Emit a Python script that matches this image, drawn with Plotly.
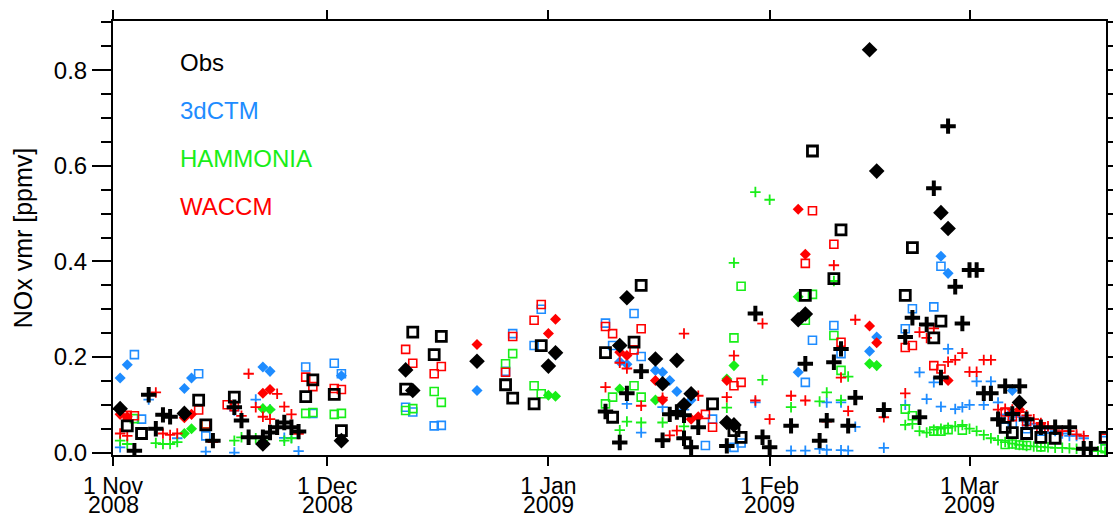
import plotly.graph_objects as go

# ---------------------------------------------------------------------------
# NOx volume mixing ratio (ppmv), winter 2008/09.
# Dates are given as "MM-DD"; Nov/Dec belong to 2008, Jan-Mar to 2009.
# Three sampling groups (squares, diamonds, crosses), each with the
# observation and the three model values.
# ---------------------------------------------------------------------------

# --- square group ----------------------------------------------------------
sq_obs_dates = ["11-03", "11-05", "11-13", "11-14", "11-18", "11-28", "11-29", "12-02", "12-03",
                "12-12", "12-13", "12-16", "12-17", "12-26", "12-27", "12-30", "12-31", "01-09",
                "01-10", "01-13", "01-14", "01-24", "01-27", "01-28", "02-06", "02-07", "02-10",
                "02-11", "02-20", "02-21", "02-24", "02-25", "03-06", "03-07", "03-09", "03-11",
                "03-13", "03-20"]
sq_obs = [0.056, 0.040, 0.110, 0.058, 0.116, 0.117, 0.152, 0.122, 0.046,
          0.133, 0.252, 0.205, 0.243, 0.142, 0.114, 0.102, 0.224, 0.209,
          0.074, 0.231, 0.350, 0.102, 0.046, 0.032, 0.329, 0.631, 0.364,
          0.466, 0.329, 0.429, 0.240, 0.275, 0.053, 0.042, 0.040, 0.032,
          0.030, 0.032]

sq_ctm_dates = ["11-04", "11-05", "11-13", "11-14", "11-28", "11-29", "12-02", "12-03", "12-12",
                "12-13", "12-16", "12-17", "12-26", "12-27", "12-30", "12-31", "01-09", "01-10",
                "01-13", "01-14", "01-23", "01-24", "01-27", "01-28", "02-06", "02-07", "02-10",
                "02-11", "02-20", "02-21", "02-24", "02-25", "03-06", "03-07", "03-09", "03-11",
                "03-20"]
sq_ctm = [0.205, 0.070, 0.165, 0.035, 0.179, 0.082, 0.187, 0.165, 0.095,
          0.085, 0.056, 0.057, 0.170, 0.249, 0.224, 0.300, 0.271, 0.224,
          0.291, 0.201, 0.015, 0.070, 0.011, 0.020, 0.147, 0.235, 0.266,
          0.207, 0.259, 0.301, 0.305, 0.390, 0.070, 0.060, 0.050, 0.045,
          0.025]

sq_ham_dates = ["11-04", "11-14", "11-28", "11-29", "12-02", "12-03", "12-12", "12-13", "12-16",
                "12-17", "12-26", "12-27", "12-30", "12-31", "01-09", "01-10", "01-13", "01-14",
                "01-27", "01-28", "02-06", "02-07", "02-10", "02-11", "02-20", "02-21", "02-24",
                "02-25", "02-26", "02-28", "03-06", "03-07", "03-08", "03-09", "03-11", "03-20"]
sq_ham = [0.071, 0.060, 0.082, 0.084, 0.080, 0.082, 0.088, 0.092, 0.128,
          0.105, 0.186, 0.207, 0.140, 0.123, 0.102, 0.116, 0.140, 0.116,
          0.240, 0.348, 0.277, 0.331, 0.245, 0.172, 0.091, 0.077, 0.045,
          0.045, 0.048, 0.047, 0.017, 0.018, 0.016, 0.015, 0.012, 0.008]

sq_wac_dates = ["11-03", "11-04", "11-13", "11-14", "11-17", "11-18", "11-28", "11-29", "12-02",
                "12-03", "12-12", "12-13", "12-16", "12-17", "12-26", "12-27", "12-30", "12-31",
                "01-09", "01-10", "01-13", "01-14", "01-23", "01-24", "01-27", "01-28", "02-06",
                "02-07", "02-10", "02-11", "02-20", "02-21", "02-24", "02-25", "03-06", "03-07",
                "03-09", "03-11", "03-20"]
sq_wac = [0.078, 0.077, 0.089, 0.060, 0.100, 0.096, 0.158, 0.138, 0.134,
          0.132, 0.216, 0.187, 0.165, 0.180, 0.168, 0.243, 0.277, 0.310,
          0.264, 0.249, 0.215, 0.259, 0.080, 0.053, 0.140, 0.147, 0.396,
          0.506, 0.436, 0.231, 0.220, 0.224, 0.182, 0.175, 0.085, 0.075,
          0.065, 0.050, 0.030]

# --- diamond group ---------------------------------------------------------
dm_obs_dates = ["11-02", "11-11", "11-22", "12-03", "12-12", "12-13", "12-22", "01-01", "01-02",
                "01-11", "01-12", "01-16", "01-17", "01-19", "01-20", "01-21", "01-26", "01-27",
                "02-05", "02-06", "02-15", "02-16", "02-25", "02-26", "03-08"]
dm_obs = [0.092, 0.082, 0.018, 0.025, 0.173, 0.130, 0.191, 0.181, 0.209,
          0.224, 0.324, 0.196, 0.144, 0.193, 0.100, 0.123, 0.063, 0.058,
          0.278, 0.290, 0.843, 0.589, 0.502, 0.469, 0.105]

dm_ctm_dates = ["11-02", "11-03", "11-11", "11-12", "11-22", "11-23", "12-03", "12-22", "01-02",
                "01-11", "01-12", "01-16", "01-17", "01-18", "01-19", "01-21", "02-05", "02-15",
                "02-16", "02-25", "02-26", "03-07"]
dm_ctm = [0.156, 0.184, 0.134, 0.156, 0.179, 0.170, 0.161, 0.130, 0.205,
          0.190, 0.185, 0.172, 0.168, 0.151, 0.128, 0.110, 0.168, 0.212,
          0.242, 0.411, 0.375, 0.130]

dm_ham_dates = ["11-11", "11-12", "11-22", "11-23", "01-01", "01-02", "01-11", "01-16", "01-26",
                "01-27", "02-05", "02-15", "02-16"]
dm_ham = [0.040, 0.050, 0.092, 0.090, 0.120, 0.118, 0.133, 0.110, 0.154,
          0.182, 0.326, 0.186, 0.182]

dm_wac_dates = ["11-02", "11-03", "11-11", "11-12", "11-22", "11-23", "12-22", "01-01", "01-02",
                "01-11", "01-12", "01-16", "01-17", "01-21", "01-22", "01-26", "02-05", "02-06",
                "02-15", "02-16", "02-26", "03-08"]
dm_wac = [0.080, 0.075, 0.073, 0.080, 0.124, 0.132, 0.226, 0.249, 0.279,
          0.210, 0.203, 0.151, 0.110, 0.070, 0.075, 0.151, 0.509, 0.415,
          0.265, 0.230, 0.151, 0.090]

# --- cross group -----------------------------------------------------------
cr_obs_dates = ["11-04", "11-06", "11-07", "11-08", "11-09", "11-15", "11-18", "11-19", "11-20",
                "11-22", "11-23", "11-24", "11-25", "11-26", "11-27", "01-09", "01-11", "01-12",
                "01-14", "01-17", "01-18", "01-19", "01-20", "01-20", "01-21", "01-22", "01-26",
                "01-30", "01-31", "02-01", "02-04", "02-06", "02-08", "02-09", "02-10", "02-11",
                "02-12", "02-13", "02-17", "02-20", "02-21", "02-22", "02-23", "02-24", "02-25",
                "02-26", "02-27", "02-28", "03-01", "03-02", "03-03", "03-04", "03-05", "03-06",
                "03-07", "03-08", "03-09", "03-11", "03-13", "03-15", "03-17", "03-18"]
cr_obs = [0.004, 0.121, 0.050, 0.079, 0.075, 0.025, 0.095, 0.067, 0.032,
          0.032, 0.042, 0.053, 0.063, 0.053, 0.044, 0.086, 0.021, 0.124,
          0.170, 0.026, 0.080, 0.085, 0.078, 0.030, 0.011, 0.053, 0.014,
          0.291, 0.032, 0.011, 0.056, 0.186, 0.025, 0.067, 0.189, 0.217,
          0.056, 0.115, 0.089, 0.242, 0.282, 0.074, 0.268, 0.553, 0.157,
          0.683, 0.347, 0.270, 0.382, 0.382, 0.124, 0.124, 0.070, 0.139,
          0.081, 0.139, 0.070, 0.053, 0.053, 0.053, 0.008, 0.008]

cr_ctm_dates = ["11-02", "11-06", "11-10", "11-14", "11-18", "11-18", "11-21", "11-23", "11-25",
                "11-26", "11-27", "01-12", "01-14", "01-17", "01-20", "01-30", "02-04", "02-06",
                "02-08", "02-09", "02-09", "02-11", "02-11", "02-12", "02-13", "02-17", "02-20",
                "02-22", "02-23", "02-24", "02-25", "02-26", "02-27", "02-28", "03-01", "03-02",
                "03-03", "03-04", "03-05", "03-06", "03-07", "03-08", "03-09", "03-10", "03-11",
                "03-12", "03-13", "03-14", "03-15", "03-16", "03-17"]
cr_ctm = [0.011, 0.111, 0.030, 0.002, 0.088, 0.000, 0.111, 0.090, 0.031,
          0.031, 0.003, 0.102, 0.042, 0.095, 0.090, 0.105, 0.004, 0.004,
          0.008, 0.105, 0.006, 0.105, 0.005, 0.004, 0.054, 0.010, 0.100,
          0.168, 0.112, 0.147, 0.096, 0.217, 0.091, 0.095, 0.100, 0.149,
          0.100, 0.149, 0.105, 0.080, 0.085, 0.075, 0.065, 0.060, 0.055,
          0.050, 0.045, 0.040, 0.035, 0.035, 0.030]

cr_ham_dates = ["11-02", "11-03", "11-07", "11-08", "11-09", "11-10", "11-18", "11-19", "11-21",
                "11-22", "11-25", "11-26", "01-11", "01-12", "01-14", "01-17", "01-20", "01-26",
                "01-27", "01-30", "01-31", "02-01", "02-04", "02-08", "02-09", "02-10", "02-11",
                "02-12", "02-20", "02-21", "02-22", "02-23", "02-24", "02-25", "02-26", "02-27",
                "02-28", "03-01", "03-02", "03-03", "03-04", "03-05", "03-06", "03-07", "03-08",
                "03-09", "03-10", "03-11", "03-12", "03-13", "03-14", "03-15", "03-16", "03-17",
                "03-18", "03-19", "03-20"]
cr_ham = [0.025, 0.018, 0.020, 0.018, 0.018, 0.022, 0.025, 0.032, 0.030,
          0.025, 0.025, 0.030, 0.047, 0.065, 0.063, 0.063, 0.055, 0.094,
          0.397, 0.545, 0.152, 0.529, 0.095, 0.107, 0.126, 0.359, 0.110,
          0.159, 0.058, 0.060, 0.045, 0.042, 0.048, 0.050, 0.052, 0.055,
          0.058, 0.050, 0.045, 0.037, 0.030, 0.026, 0.022, 0.019, 0.016,
          0.014, 0.013, 0.012, 0.011, 0.010, 0.010, 0.009, 0.008, 0.006,
          0.005, 0.003, 0.002]

cr_wac_dates = ["11-02", "11-03", "11-07", "11-08", "11-09", "11-10", "11-15", "11-19", "11-20",
                "11-21", "11-22", "11-23", "11-24", "11-25", "11-26", "11-27", "01-09", "01-11",
                "01-12", "01-14", "01-17", "01-18", "01-19", "01-20", "01-22", "01-26", "01-27",
                "01-30", "01-31", "02-01", "02-04", "02-06", "02-09", "02-10", "02-11", "02-12",
                "02-13", "02-17", "02-20", "02-22", "02-23", "02-24", "02-26", "02-27", "02-28",
                "03-01", "03-02", "03-03", "03-04", "03-05", "03-06", "03-07", "03-08", "03-09",
                "03-10", "03-11", "03-12", "03-13", "03-14", "03-15", "03-16", "03-17"]
cr_wac = [0.040, 0.035, 0.126, 0.040, 0.037, 0.040, 0.022, 0.077, 0.165,
          0.095, 0.075, 0.070, 0.123, 0.096, 0.080, 0.039, 0.137, 0.188,
          0.176, 0.098, 0.115, 0.036, 0.046, 0.249, 0.119, 0.116, 0.203,
          0.109, 0.270, 0.070, 0.119, 0.109, 0.065, 0.392, 0.157, 0.087,
          0.278, 0.074, 0.124, 0.252, 0.240, 0.260, 0.190, 0.194, 0.208,
          0.169, 0.169, 0.194, 0.194, 0.090, 0.092, 0.090, 0.085, 0.078,
          0.070, 0.062, 0.055, 0.050, 0.045, 0.045, 0.038, 0.035]

# --- axis ticks and legend labels ------------------------------------------
month_ticks = ["2008-11-01", "2008-12-01", "2009-01-01", "2009-02-01", "2009-03-01"]
month_labels = ["1 Nov", "1 Dec", "1 Jan", "1 Feb", "1 Mar"]
year_labels = ["2008", "2008", "2009", "2009", "2009"]
y_ticks = [0.0, 0.2, 0.4, 0.6, 0.8]

source_names = ["Obs", "3dCTM", "HAMMONIA", "WACCM"]
source_colors = ["#000000", "#1e8cff", "#18ee18", "#ff0000"]

FONT = "Liberation Sans, Arial, Helvetica, sans-serif"


def season(md_list):
    """Attach the winter-season year to "MM-DD" strings."""
    return [("2008-" if int(md[:2]) >= 11 else "2009-") + md for md in md_list]


groups = {
    "square": [(sq_obs_dates, sq_obs), (sq_ctm_dates, sq_ctm), (sq_ham_dates, sq_ham), (sq_wac_dates, sq_wac)],
    "diamond": [(dm_obs_dates, dm_obs), (dm_ctm_dates, dm_ctm), (dm_ham_dates, dm_ham), (dm_wac_dates, dm_wac)],
    "cross": [(cr_obs_dates, cr_obs), (cr_ctm_dates, cr_ctm), (cr_ham_dates, cr_ham), (cr_wac_dates, cr_wac)],
}


def marker_style(kind, is_obs, color):
    if kind == "square":
        return dict(symbol="square-open", size=10 if is_obs else 8, color=color,
                    line=dict(color=color, width=2.8 if is_obs else 1.6))
    if kind == "diamond":
        return dict(symbol="diamond", size=12 if is_obs else 8.5, color=color,
                    line=dict(width=0))
    return dict(symbol="cross-thin", size=11 if is_obs else 7.5, color=color,
                line=dict(color=color, width=4 if is_obs else 1.8))


fig = go.Figure()

# model values first, observations drawn on top
for src in [1, 2, 3, 0]:
    for kind, series in groups.items():
        dates, vals = series[src]
        fig.add_trace(go.Scatter(
            x=season(dates), y=vals, mode="markers",
            name=f"{source_names[src]} ({kind})",
            marker=marker_style(kind, src == 0, source_colors[src]),
            showlegend=False, hoverinfo="x+y",
        ))

# coloured source labels in the upper left corner
for i, (name, col) in enumerate(zip(source_names, source_colors)):
    fig.add_annotation(text=name, xref="paper", yref="paper",
                       x=0.0655, y=0.905 - i * 0.111, xanchor="left", yanchor="middle",
                       showarrow=False, font=dict(family=FONT, size=24, color=col))

# second line (year) of the date tick labels
for tv, yl in zip(month_ticks, year_labels):
    fig.add_annotation(text=yl, x=tv, xref="x", yref="paper", y=-0.1472,
                       xanchor="center", yanchor="bottom", showarrow=False,
                       borderpad=0, font=dict(family=FONT, size=23, color="black"))

axis_common = dict(showgrid=False, zeroline=False, showline=True, linecolor="black",
                   linewidth=2, mirror="allticks", ticks="outside", tickcolor="black",
                   tickwidth=2, automargin=False)

fig.update_xaxes(type="date", range=["2008-11-01", "2009-03-20 03:00"],
                 tickvals=month_ticks, ticktext=month_labels, ticklen=9,
                 tickfont=dict(family=FONT, size=23, color="black"), **axis_common)
fig.update_yaxes(range=[-0.005, 0.903], tickvals=y_ticks,
                 ticktext=[f"{v:.1f}" for v in y_ticks], ticklen=19,
                 tickfont=dict(family=FONT, size=24, color="black"),
                 minor=dict(dtick=0.05, tick0=0, ticklen=10, ticks="outside",
                            tickcolor="black", tickwidth=2),
                 title=dict(text="NOx vmr [ppmv]", font=dict(family=FONT, size=25, color="black"),
                            standoff=14),
                 **axis_common)

fig.update_layout(width=1113, height=519,
                  margin=dict(l=113, r=7, t=21, b=64),
                  paper_bgcolor="white", plot_bgcolor="white",
                  font=dict(family=FONT, color="black"))

fig.write_html("out.html")
